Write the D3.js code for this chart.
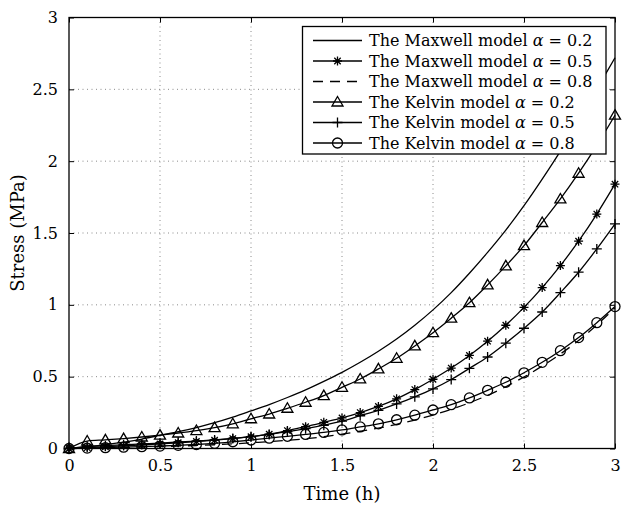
<!DOCTYPE html>
<html lang="en">
<head>
  <meta charset="UTF-8">
  <script src="https://d3js.org/d3.v7.min.js"></script>
  <title>Stress vs time</title>
  <style>
    body { margin: 0; background: #fff; }
    text { font-family: "DejaVu Serif", serif; fill: #000; }
  </style>
</head>
<body>
<script>
  const w = 622;
  const h = 506;

  // data (time in h, stress in MPa)
  const time = [0, 0.1, 0.2, 0.3, 0.4, 0.5, 0.6, 0.7, 0.8, 0.9, 1.0,
    1.1, 1.2, 1.3, 1.4, 1.5, 1.6, 1.7, 1.8, 1.9, 2.0,
    2.1, 2.2, 2.3, 2.4, 2.5, 2.6, 2.7, 2.8, 2.9, 3.0];

  const maxwell02 = [0, 0.012, 0.027, 0.045, 0.066, 0.092, 0.117, 0.146, 0.180, 0.219, 0.262,
    0.306, 0.355, 0.408, 0.467, 0.530, 0.600, 0.677, 0.762, 0.858, 0.965,
    1.085, 1.220, 1.365, 1.520, 1.690, 1.875, 2.070, 2.280, 2.500, 2.720];
  const maxwell05 = [0, 0.006, 0.012, 0.018, 0.025, 0.032, 0.040, 0.049, 0.058, 0.069, 0.082,
    0.100, 0.125, 0.152, 0.182, 0.213, 0.250, 0.293, 0.346, 0.410, 0.482,
    0.560, 0.648, 0.747, 0.858, 0.982, 1.120, 1.273, 1.443, 1.632, 1.840];
  const maxwell08 = [0, 0.002, 0.004, 0.007, 0.010, 0.013, 0.017, 0.021, 0.026, 0.032, 0.040,
    0.048, 0.057, 0.068, 0.082, 0.100, 0.120, 0.142, 0.168, 0.198, 0.233,
    0.272, 0.318, 0.370, 0.430, 0.498, 0.574, 0.658, 0.752, 0.860, 0.980];
  const kelvin02 = [0, 0.052, 0.060, 0.069, 0.080, 0.093, 0.108, 0.125, 0.145, 0.172, 0.207,
    0.240, 0.280, 0.322, 0.368, 0.426, 0.484, 0.554, 0.628, 0.714, 0.806,
    0.907, 1.015, 1.139, 1.271, 1.412, 1.573, 1.737, 1.916, 2.110, 2.320];
  const kelvin05 = [0, 0.015, 0.020, 0.026, 0.032, 0.038, 0.045, 0.052, 0.060, 0.070, 0.082,
    0.098, 0.117, 0.138, 0.162, 0.190, 0.228, 0.266, 0.310, 0.360, 0.415,
    0.480, 0.558, 0.637, 0.733, 0.837, 0.950, 1.085, 1.227, 1.389, 1.563];
  const kelvin08 = [0, 0.003, 0.006, 0.009, 0.013, 0.017, 0.022, 0.028, 0.036, 0.047, 0.059,
    0.072, 0.085, 0.098, 0.112, 0.129, 0.150, 0.172, 0.200, 0.232, 0.268,
    0.305, 0.352, 0.405, 0.461, 0.527, 0.600, 0.681, 0.772, 0.876, 0.988];

  const seriesNames = ["The Maxwell model ", "The Maxwell model ", "The Maxwell model ",
    "The Kelvin model ", "The Kelvin model ", "The Kelvin model "];
  const alphas = ["0.2", "0.5", "0.8", "0.2", "0.5", "0.8"];
  const xTicks = [0, 0.5, 1, 1.5, 2, 2.5, 3];
  const yTicks = [0, 0.5, 1, 1.5, 2, 2.5, 3];

  const series = [
    { name: seriesNames[0], alpha: alphas[0], values: maxwell02, marker: null, dash: null },
    { name: seriesNames[1], alpha: alphas[1], values: maxwell05, marker: "star", dash: null },
    { name: seriesNames[2], alpha: alphas[2], values: maxwell08, marker: null, dash: "10,7" },
    { name: seriesNames[3], alpha: alphas[3], values: kelvin02, marker: "triangle", dash: null },
    { name: seriesNames[4], alpha: alphas[4], values: kelvin05, marker: "plus", dash: null },
    { name: seriesNames[5], alpha: alphas[5], values: kelvin08, marker: "circle", dash: null }
  ];

  const pLeft = 69, pRight = 615, pTop = 17.5, pBottom = 448.5;

  const x = d3.scaleLinear().domain([0, 3]).range([pLeft, pRight]);
  const y = d3.scaleLinear().domain([0, 3]).range([pBottom, pTop]);

  const svg = d3.select("body").append("svg")
    .attr("width", w)
    .attr("height", h);

  // dotted grid
  const grid = svg.append("g").attr("stroke", "#8a8a8a").attr("stroke-width", 1)
    .attr("stroke-dasharray", "1,3.5");
  grid.selectAll("line.gx")
    .data(xTicks.slice(1, -1))
    .enter().append("line")
    .attr("class", "gx")
    .attr("x1", d => x(d)).attr("x2", d => x(d))
    .attr("y1", pTop).attr("y2", pBottom);
  grid.selectAll("line.gy")
    .data(yTicks.slice(1, -1))
    .enter().append("line")
    .attr("class", "gy")
    .attr("y1", d => y(d)).attr("y2", d => y(d))
    .attr("x1", pLeft).attr("x2", pRight);

  // axes with inward ticks on all four sides
  function styleAxis(g) {
    g.select(".domain").remove();
    g.selectAll(".tick line").attr("stroke", "#000");
    g.selectAll(".tick text").style("font-size", "16px").style("font-family", "DejaVu Serif, serif");
  }
  svg.append("g")
    .attr("transform", "translate(0," + pBottom + ")")
    .call(d3.axisBottom(x).tickValues(xTicks).tickSize(-5).tickPadding(11).tickFormat(d3.format("")))
    .call(styleAxis);
  svg.append("g")
    .attr("transform", "translate(" + pLeft + ",0)")
    .call(d3.axisLeft(y).tickValues(yTicks).tickSize(-5).tickPadding(11).tickFormat(d3.format("")))
    .call(styleAxis);
  svg.append("g")
    .attr("transform", "translate(0," + pTop + ")")
    .call(d3.axisTop(x).tickValues(xTicks).tickSize(-5).tickFormat(""))
    .call(styleAxis);
  svg.append("g")
    .attr("transform", "translate(" + pRight + ",0)")
    .call(d3.axisRight(y).tickValues(yTicks).tickSize(-5).tickFormat(""))
    .call(styleAxis);

  svg.append("rect")
    .attr("x", pLeft).attr("y", pTop)
    .attr("width", pRight - pLeft).attr("height", pBottom - pTop)
    .attr("fill", "none").attr("stroke", "#000").attr("stroke-width", 1.3);

  // marker shapes
  function markerPath(type) {
    if (type === "triangle") return "M0,-5.5L5.5,4L-5.5,4Z";
    if (type === "plus") return "M-5,0H5M0,-5V5";
    if (type === "star") return "M-4.5,0H4.5M0,-4.5V4.5M-3.2,-3.2L3.2,3.2M-3.2,3.2L3.2,-3.2";
    if (type === "circle") return d3.arc()({ innerRadius: 0, outerRadius: 5, startAngle: 0, endAngle: 2 * Math.PI });
    return null;
  }

  const line = d3.line()
    .x((d, i) => x(time[i]))
    .y(d => y(d))
    .curve(d3.curveMonotoneX);

  series.forEach(function (s) {
    svg.append("path")
      .datum(s.values)
      .attr("d", line)
      .attr("fill", "none")
      .attr("stroke", "#000")
      .attr("stroke-width", 1.3)
      .attr("stroke-dasharray", s.dash);
    if (s.marker) {
      svg.append("g").selectAll("path")
        .data(s.values)
        .enter().append("path")
        .attr("d", markerPath(s.marker))
        .attr("transform", (d, i) => "translate(" + x(time[i]) + "," + y(d) + ")")
        .attr("fill", "none")
        .attr("stroke", "#000")
        .attr("stroke-width", 1.3);
    }
  });

  // legend
  const lg = svg.append("g");
  lg.append("rect")
    .attr("x", 302.5).attr("y", 26.5)
    .attr("width", 303.5).attr("height", 127.5)
    .attr("fill", "#fff").attr("stroke", "#000").attr("stroke-width", 1.3);
  series.forEach(function (s, i) {
    const ly = 40.5 + i * 20.5;
    lg.append("line")
      .attr("x1", 313).attr("x2", 362)
      .attr("y1", ly).attr("y2", ly)
      .attr("stroke", "#000").attr("stroke-width", 1.3)
      .attr("stroke-dasharray", s.dash);
    if (s.marker) {
      lg.append("path")
        .attr("d", markerPath(s.marker))
        .attr("transform", "translate(337.5," + ly + ")")
        .attr("fill", "none").attr("stroke", "#000").attr("stroke-width", 1.3);
    }
    const t = lg.append("text")
      .attr("x", 369).attr("y", ly + 5.5)
      .style("font-size", "16px");
    t.append("tspan").text(s.name);
    t.append("tspan").style("font-style", "italic").text("α");
    t.append("tspan").text(" = " + s.alpha);
  });

  // axis titles
  svg.append("text")
    .attr("x", (pLeft + pRight) / 2).attr("y", 500)
    .attr("text-anchor", "middle")
    .style("font-size", "18px")
    .text("Time (h)");
  svg.append("text")
    .attr("transform", "translate(24," + ((pTop + pBottom) / 2) + ") rotate(-90)")
    .attr("text-anchor", "middle")
    .style("font-size", "18px")
    .text("Stress (MPa)");
</script>
</body>
</html>
